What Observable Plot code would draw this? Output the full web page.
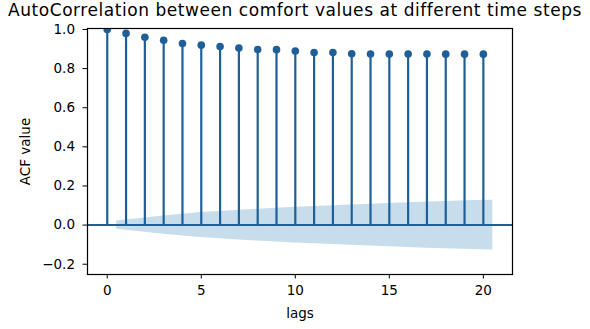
<!DOCTYPE html>
<html>
<head>
<meta charset="utf-8">
<script src="https://cdn.jsdelivr.net/npm/d3@7"></script>
<script src="https://cdn.jsdelivr.net/npm/@observablehq/plot@0.6"></script>
<style>
  html, body { margin: 0; padding: 0; background: #fff; }
  #wrap { width: 590px; height: 329px; position: relative; overflow: hidden; font-family: "DejaVu Sans", sans-serif; }
  #title { position: absolute; left: 0; top: 0; width: 590px; text-align: center; font-size: 17px; line-height: normal; letter-spacing: 0.55px; color: #000; white-space: nowrap; z-index: 2; }
  #chart { position: absolute; left: 0; top: 0; }
</style>
</head>
<body>
<div id="wrap">
  <div id="chart"></div>
  <div id="title">AutoCorrelation between comfort values at different time steps</div>
</div>
<script>
// ACF values for lags 0..20
const lags = [0,1,2,3,4,5,6,7,8,9,10,11,12,13,14,15,16,17,18,19,20];
const acfValues = [1.0,0.98,0.96,0.945,0.928,0.92,0.913,0.905,0.898,0.897,0.89,0.882,0.882,0.876,0.875,0.875,0.875,0.875,0.874,0.874,0.874];
// confidence band (half-width) positions and values
const bandLags = [0.5,2,3,4,5,6,7,8,9,10,11,12,13,14,15,16,17,18,19,20.5];
const bandHalf = [0.021,0.036,0.047,0.056,0.064,0.070,0.076,0.081,0.086,0.091,0.095,0.099,0.103,0.107,0.111,0.114,0.118,0.121,0.124,0.127];
const xTicks = [0,5,10,15,20];
const yTicks = [-0.2,0,0.2,0.4,0.6,0.8,1.0];

const stemColor = "#1f5f97";
const bandColor = "#1f77b4";

const acf = lags.map((l, i) => ({lag: l, v: acfValues[i]}));
const band = bandLags.map((l, i) => ({lag: l, w: bandHalf[i]}));

const fmt = d => (d < 0 ? "\u2212" : "") + Math.abs(d).toFixed(1);

const plot = Plot.plot({
  width: 590,
  height: 329,
  marginTop: 28,
  marginBottom: 55,
  marginLeft: 87,
  marginRight: 78,
  style: {fontFamily: "DejaVu Sans, sans-serif", fontSize: "13.5px", color: "#000", background: "#fff"},
  x: {domain: [-1.05, 21.55], ticks: xTicks, tickFormat: d => String(d), label: "lags", labelAnchor: "center", labelArrow: "none", labelOffset: 43, tickSize: 4.5, tickPadding: 6},
  y: {domain: [-0.2525, 1.005], ticks: yTicks, tickFormat: fmt, label: "ACF value", labelAnchor: "center", labelArrow: "none", labelOffset: 67, tickSize: 4.5, tickPadding: 8},
  marks: [
    Plot.areaY(band, {x: "lag", y1: d => -d.w, y2: d => d.w, fill: bandColor, fillOpacity: 0.25}),
    Plot.ruleY([0], {stroke: stemColor, strokeWidth: 2}),
    Plot.ruleX(acf, {x: "lag", y1: 0, y2: "v", stroke: stemColor, strokeWidth: 2.2}),
    Plot.dot(acf, {x: "lag", y: "v", r: 3.8, fill: stemColor, stroke: "none", clip: true}),
    Plot.frame({stroke: "#000", strokeWidth: 1.2})
  ]
});
document.getElementById("chart").appendChild(plot);
</script>
</body>
</html>
